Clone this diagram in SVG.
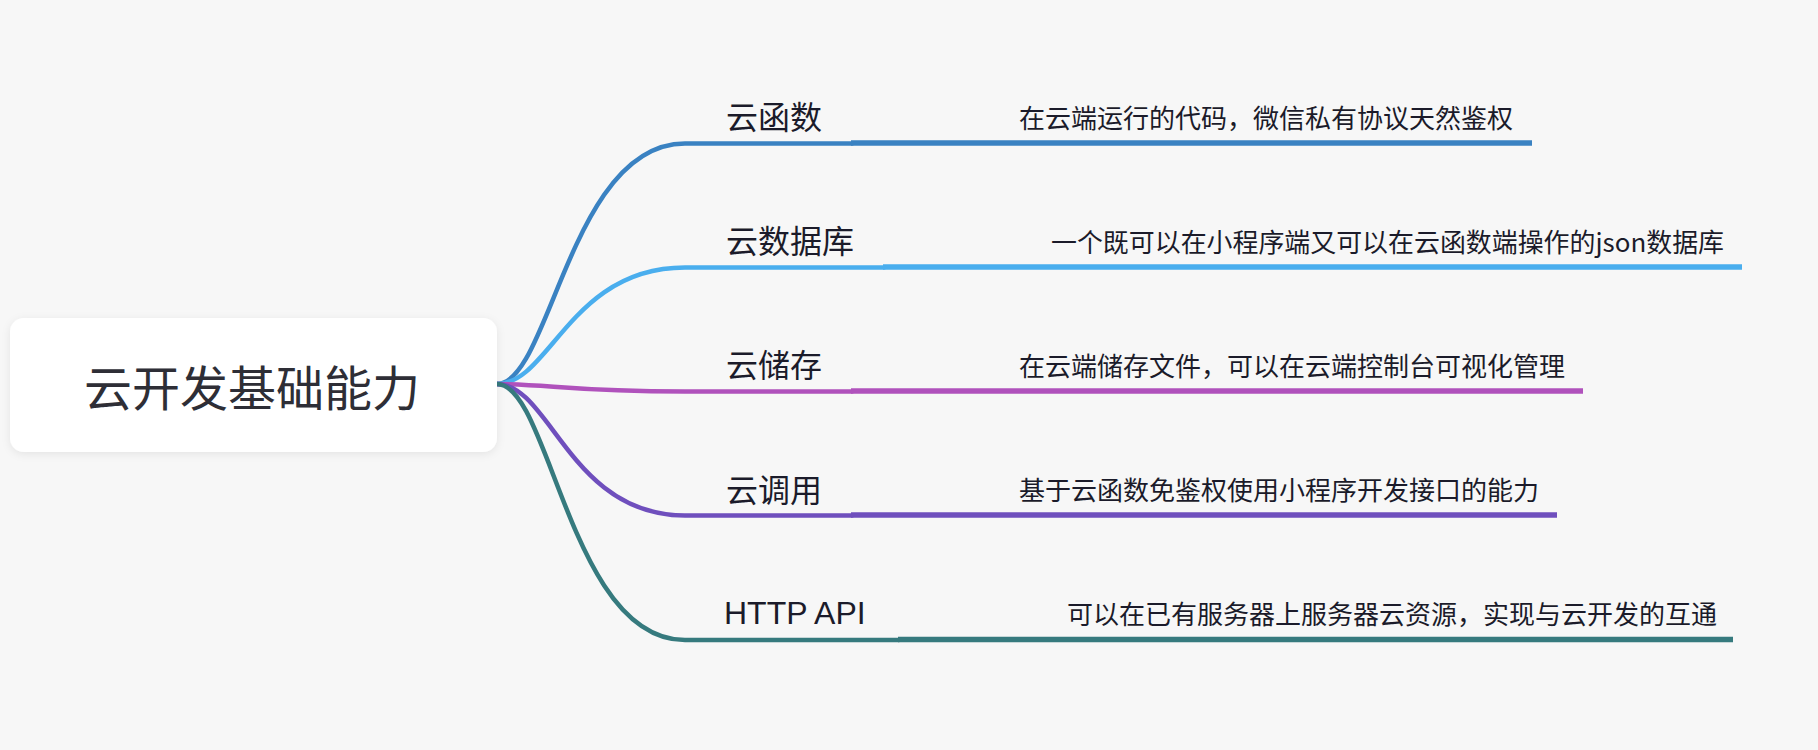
<svg xmlns="http://www.w3.org/2000/svg" width="1818" height="750" viewBox="0 0 1818 750">
<defs>
<filter id="sh" x="-10%" y="-20%" width="120%" height="140%">
<feDropShadow dx="0" dy="2" stdDeviation="4" flood-color="#000" flood-opacity="0.08"/>
</filter>
<style>
.lbl{font-family:"Noto Sans CJK SC","Liberation Sans",sans-serif;font-size:32px;fill:#1b1b2a}
.lat{font-family:"Liberation Sans","Noto Sans CJK SC",sans-serif;font-size:32px;fill:#1b1b2a}
.dsc{font-family:"Noto Sans CJK SC","Liberation Sans",sans-serif;font-size:26px;fill:#1b1b2a}
.ln{fill:none;stroke-width:5.5;stroke-linecap:butt}
.cv{fill:none;stroke-width:4.5;stroke-linecap:round}
</style>
</defs>
<rect width="1818" height="750" fill="#f7f7f7"/>
<g id="connectors">
<path class="cv" stroke="#3a82c2" d="M497,384 C550,384 570,143.5 685,143.5 L852,143.5"/>
<path class="ln" stroke="#3a82c2" d="M851,143 L1532,143"/>
<path class="cv" stroke="#4aaeee" d="M497,384 C550,384 570,267.5 685,267.5 L884,267.5"/>
<path class="ln" stroke="#4aaeee" d="M883,267 L1742,267"/>
<path class="cv" stroke="#b052bc" d="M497,384 C550,384 570,391.5 685,391.5 L852,391.5"/>
<path class="ln" stroke="#b052bc" d="M851,391 L1583,391"/>
<path class="cv" stroke="#6f4fbd" d="M497,384 C550,384 570,515.5 685,515.5 L852,515.5"/>
<path class="ln" stroke="#6f4fbd" d="M851,515 L1557,515"/>
<path class="cv" stroke="#367a7e" d="M497,384 C550,384 570,640 685,640 L899,640"/>
<path class="ln" stroke="#367a7e" d="M898,639.5 L1733,639.5"/>
</g>
<g id="root">
<rect x="10" y="318" width="487" height="134" rx="14" fill="#ffffff" filter="url(#sh)"/>
<text x="252" y="406" text-anchor="middle" font-family="Noto Sans CJK SC, Liberation Sans, sans-serif" font-size="48" fill="#2e2e36">云开发基础能力</text>
</g>
<g id="n1">
<text class="lbl" x="726" y="129">云函数</text>
<text class="dsc" x="1019" y="127.5">在云端运行的代码，微信私有协议天然鉴权</text>
</g>
<g id="n2">
<text class="lbl" x="726" y="253">云数据库</text>
<text class="dsc" x="1051" y="251.5" textLength="673" lengthAdjust="spacingAndGlyphs">一个既可以在小程序端又可以在云函数端操作的json数据库</text>
</g>
<g id="n3">
<text class="lbl" x="726" y="377">云储存</text>
<text class="dsc" x="1019" y="375.5">在云端储存文件，可以在云端控制台可视化管理</text>
</g>
<g id="n4">
<text class="lbl" x="726" y="501.5">云调用</text>
<text class="dsc" x="1019" y="499.5">基于云函数免鉴权使用小程序开发接口的能力</text>
</g>
<g id="n5">
<text class="lat" x="724" y="624">HTTP API</text>
<text class="dsc" x="1067" y="624">可以在已有服务器上服务器云资源，实现与云开发的互通</text>
</g>
</svg>
